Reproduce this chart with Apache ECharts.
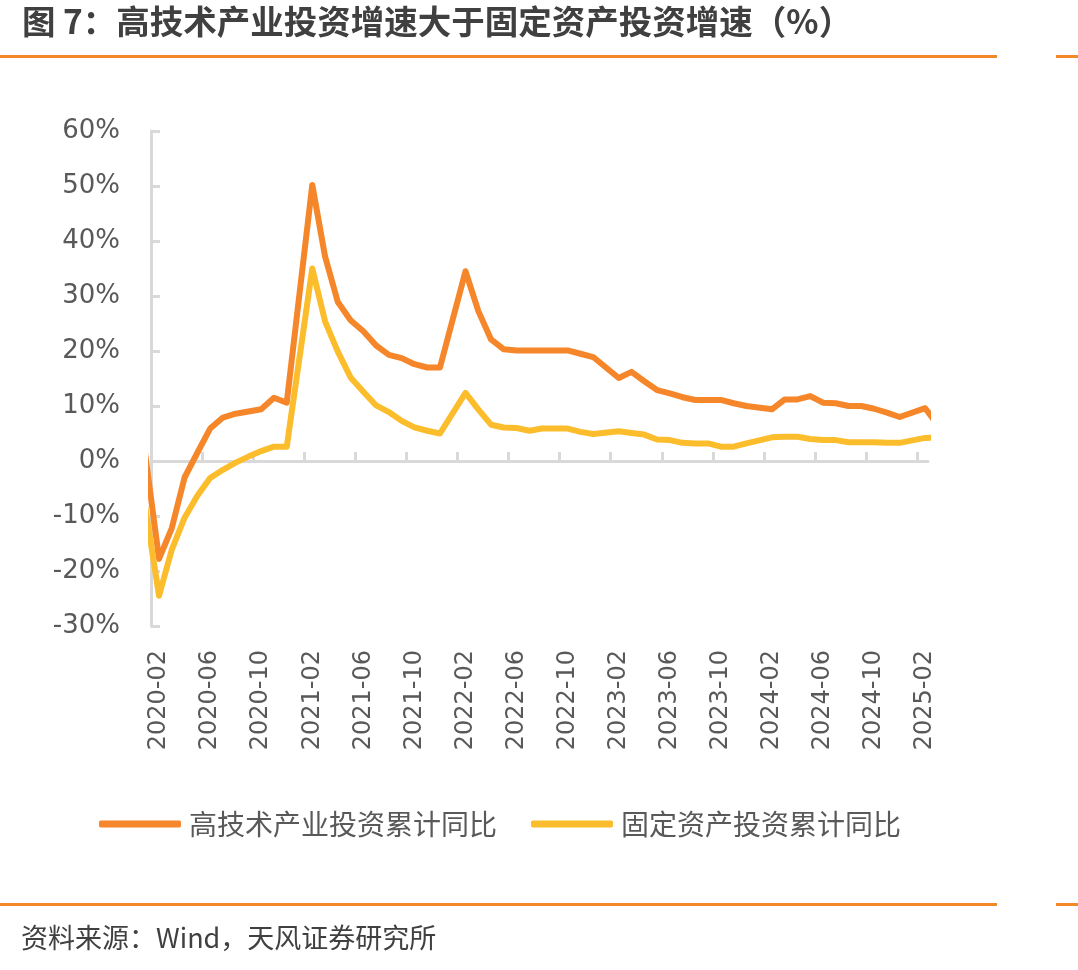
<!DOCTYPE html>
<html>
<head>
<meta charset="utf-8">
<title>高技术产业投资增速大于固定资产投资增速</title>
<script src="https://cdn.jsdelivr.net/npm/echarts@6/dist/echarts.min.js"></script>
<style>
  html, body { margin: 0; padding: 0; background: #fff; }
  #chart { width: 1078px; height: 970px; }
</style>
</head>
<body>
<div id="chart"></div>
<script>
// 数据：累计同比（%），1月不单独公布
var months = [
  "2019-12",
  "2020-02", "2020-03", "2020-04", "2020-05", "2020-06", "2020-07", "2020-08", "2020-09", "2020-10", "2020-11", "2020-12",
  "2021-02", "2021-03", "2021-04", "2021-05", "2021-06", "2021-07", "2021-08", "2021-09", "2021-10", "2021-11", "2021-12",
  "2022-02", "2022-03", "2022-04", "2022-05", "2022-06", "2022-07", "2022-08", "2022-09", "2022-10", "2022-11", "2022-12",
  "2023-02", "2023-03", "2023-04", "2023-05", "2023-06", "2023-07", "2023-08", "2023-09", "2023-10", "2023-11", "2023-12",
  "2024-02", "2024-03", "2024-04", "2024-05", "2024-06", "2024-07", "2024-08", "2024-09", "2024-10", "2024-11", "2024-12",
  "2025-02", "2025-03"
];
var highTech = [
  17.3,
  -17.8, -12.2, -3.0, 1.5, 5.9, 7.9, 8.6, 9.0, 9.4, 11.5, 10.6,
  50.2, 37.2, 28.9, 25.6, 23.6, 21.0, 19.3, 18.7, 17.6, 17.0, 17.0,
  34.5, 27.3, 22.1, 20.3, 20.1, 20.1, 20.1, 20.1, 20.1, 19.5, 18.9,
  15.1, 16.2, 14.5, 12.9, 12.3, 11.6, 11.1, 11.1, 11.1, 10.5, 10.0,
  9.4, 11.2, 11.2, 11.8, 10.6, 10.5, 10.0, 10.0, 9.5, 8.8, 8.0,
  9.6, 6.5
];
var fixedAsset = [
  5.4,
  -24.5, -16.1, -10.3, -6.3, -3.1, -1.6, -0.3, 0.8, 1.8, 2.6, 2.6,
  35.0, 25.4, 19.9, 15.2, 12.6, 10.1, 8.9, 7.3, 6.1, 5.5, 5.0,
  12.4, 9.4, 6.6, 6.1, 6.0, 5.5, 5.9, 5.9, 5.9, 5.3, 4.9,
  5.4, 5.1, 4.8, 3.9, 3.8, 3.3, 3.2, 3.2, 2.6, 2.6, 3.2,
  4.3, 4.4, 4.4, 4.0, 3.8, 3.8, 3.4, 3.4, 3.4, 3.3, 3.3,
  4.2, 4.3
];
var tickLabels = [
  "2020-02", "2020-06", "2020-10", "2021-02", "2021-06", "2021-10", "2022-02", "2022-06",
  "2022-10", "2023-02", "2023-06", "2023-10", "2024-02", "2024-06", "2024-10", "2025-02"
];
var seriesNames = ["高技术产业投资累计同比", "固定资产投资累计同比"];

// 月份 -> 序号（2020-01 = 0），x 轴按月份序号画
function monthIndex(s) {
  var p = s.split("-");
  return (Number(p[0]) - 2020) * 12 + (Number(p[1]) - 1);
}
function indexToMonth(v) {
  var n = Math.round(v);
  var y = 2020 + Math.floor(n / 12);
  var m = ((n % 12) + 12) % 12 + 1;
  return y + "-" + (m < 10 ? "0" + m : m);
}
function pairs(vals) {
  return months.map(function (m, i) { return [monthIndex(m), vals[i]]; });
}

var xMin = 0.37;
var xMax = 61.22;
var tickValues = [];
for (var k = 0; k < 16; k++) tickValues.push(xMin + 4 * k);

var axisGray = "#d9d9d9";
var textGray = "#595959";
var cjk = "'Noto Sans CJK SC', sans-serif";
var latin = "'DejaVu Sans', sans-serif";

var chart = echarts.init(document.getElementById("chart"));
chart.setOption({
  animation: false,
  backgroundColor: "#fff",
  graphic: [
    {
      type: "text", left: 22, top: 5,
      style: { text: "图 7：高技术产业投资增速大于固定资产投资增速（%）", font: "bold 33.5px " + cjk, fill: "#404040" }
    },
    { type: "rect", shape: { x: 0, y: 55, width: 997, height: 3 }, style: { fill: "#f5892a" } },
    { type: "rect", shape: { x: 1056, y: 55, width: 22, height: 3 }, style: { fill: "#f5892a" } },
    { type: "rect", shape: { x: 0, y: 903, width: 997, height: 3 }, style: { fill: "#f5892a" } },
    { type: "rect", shape: { x: 1056, y: 903, width: 22, height: 3 }, style: { fill: "#f5892a" } },
    {
      type: "text", left: 21, top: 924,
      style: { text: "资料来源：Wind，天风证券研究所", font: "27px " + cjk, fill: "#404040" }
    }
  ],
  legend: {
    left: 94,
    top: 805,
    itemWidth: 82,
    itemHeight: 7,
    itemGap: 34,
    icon: "roundRect",
    textStyle: { fontFamily: cjk, fontSize: 28, color: textGray, padding: [0, 0, 0, 3] },
    data: seriesNames
  },
  grid: { left: 151, right: 150, top: 131, bottom: 344 },
  xAxis: [
    {
      // 底部标签
      type: "value",
      min: xMin,
      max: xMax,
      axisLine: { show: false, onZero: false },
      axisTick: { show: false },
      splitLine: { show: false },
      axisLabel: {
        customValues: tickLabels.map(monthIndex),
        formatter: function (v) { return indexToMonth(v); },
        rotate: 90,
        margin: 24,
        fontFamily: latin,
        fontSize: 24,
        color: textGray
      }
    },
    {
      // 0 线 + 刻度
      type: "value",
      min: xMin,
      max: xMax,
      axisLine: { show: true, onZero: true, lineStyle: { color: axisGray, width: 3 } },
      axisTick: { show: true, customValues: tickValues, length: 9, lineStyle: { color: axisGray, width: 3 } },
      axisLabel: { show: false },
      splitLine: { show: false }
    }
  ],
  yAxis: {
    type: "value",
    min: -30,
    max: 60,
    interval: 10,
    axisLine: { show: true, lineStyle: { color: axisGray, width: 3 } },
    axisTick: { show: true, inside: true, length: 9, lineStyle: { color: axisGray, width: 3 } },
    splitLine: { show: false },
    axisLabel: { formatter: "{value}%", margin: 31, fontFamily: latin, fontSize: 26, color: textGray }
  },
  series: [
    {
      name: seriesNames[0],
      type: "line",
      xAxisIndex: 0,
      data: pairs(highTech),
      showSymbol: false,
      symbol: "none",
      color: "#f5862a",
      lineStyle: { width: 6, color: "#f5862a", join: "round" }
    },
    {
      name: seriesNames[1],
      type: "line",
      xAxisIndex: 0,
      data: pairs(fixedAsset),
      showSymbol: false,
      symbol: "none",
      color: "#fcbd2c",
      lineStyle: { width: 6, color: "#fcbd2c", join: "round" }
    }
  ]
});
</script>
</body>
</html>
